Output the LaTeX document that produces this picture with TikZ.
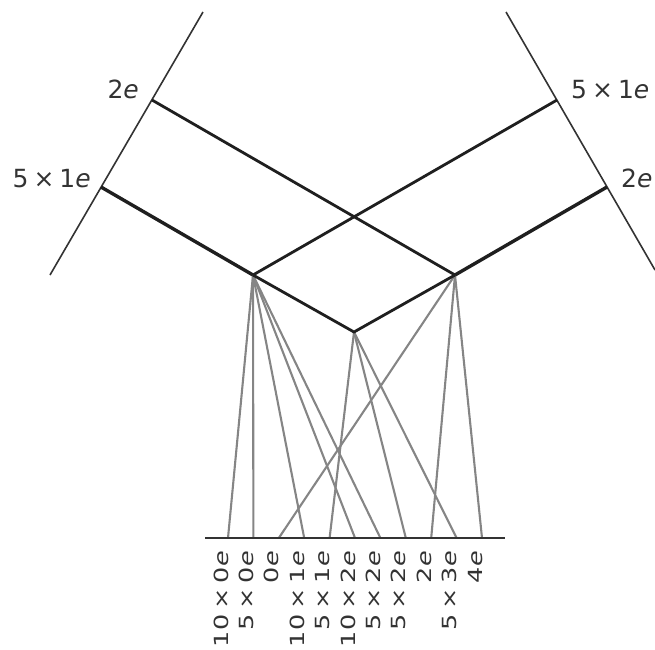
\documentclass[tikz,border=0pt]{standalone}
\usepackage{fontspec}
\setmainfont{DejaVu Sans}
\usepackage{graphicx}
\usetikzlibrary{positioning}

\newcommand{\xmul}{\hspace{0.2em}×\hspace{0.2em}}
\newcommand{\ee}{\textit{e}}

\begin{document}
\begin{tikzpicture}[
  x=1pt, y=-1pt,
  frame/.style={draw=black!80, line width=1.6pt},
  branch/.style={draw=black!88, line width=2.8pt},
  heavy/.style={branch, line width=3.4pt},
  fan/.style={draw=black!48, line width=2.1pt},
  lbl/.style={font=\fontsize{25}{30}\selectfont, inner sep=0pt, text=black!80}
]
\useasboundingbox (0,0) rectangle (655,649);

% the two outer axes
\coordinate (la) at (203,12);
\coordinate (lb) at (50,275);
\coordinate (ra) at (506,12);
\coordinate (rb) at (655,270);
\draw[frame] (la) -- (lb);
\draw[frame] (ra) -- (rb);

% points on the axes
\coordinate (l2) at (152,100);
\coordinate (l5) at (101,187);
\coordinate (r5) at (557,100);
\coordinate (r2) at (607,187);
\node[lbl, anchor=base east] (l2txt) at (139,98) {2\ee};
\node[lbl, anchor=base east] (l5txt) at (91,187) {5\xmul 1\ee};
\node[lbl, anchor=base west] (r5txt) at (571,98) {5\xmul 1\ee};
\node[lbl, anchor=base west] (r2txt) at (621,187) {2\ee};

% junctions
\coordinate (jl) at (253,275);
\coordinate (jr) at (455,275);
\coordinate (jb) at (354,332);

% bottom terminals and their labels
\foreach \i/\txt in {1/{10\xmul 0\ee}, 2/{5\xmul 0\ee}, 3/{0\ee}, 4/{10\xmul 1\ee},
  5/{5\xmul 1\ee}, 6/{10\xmul 2\ee}, 7/{5\xmul 2\ee}, 8/{5\xmul 2\ee}, 9/{2\ee},
  10/{5\xmul 3\ee}, 11/{4\ee}} {
  \coordinate (t\i) at ({202.6+25.4*\i},538);
  \node[lbl, rotate=90, anchor=base east] (n\i) at ({202.6+25.4*\i},551)
    {\scalebox{1.02}[0.78]{\txt}};
}

\foreach \i in {1,2,4,6,7} \draw[fan] (jl) -- (t\i);
\foreach \i in {3,9,11} \draw[fan] (jr) -- (t\i);
\foreach \i in {5,8,10} \draw[fan] (jb) -- (t\i);

\draw[branch] (l2) -- (jr);
\draw[branch] (r5) -- (jl);
\draw[heavy] (l5) -- (jl);
\draw[heavy] (r2) -- (jr);
\draw[branch] (jl) -- (jb) -- (jr);

\coordinate (bl) at (205,538);
\coordinate (br) at (505,538);
\draw[frame, line width=2pt] (bl) -- (br);
\end{tikzpicture}
\end{document}
